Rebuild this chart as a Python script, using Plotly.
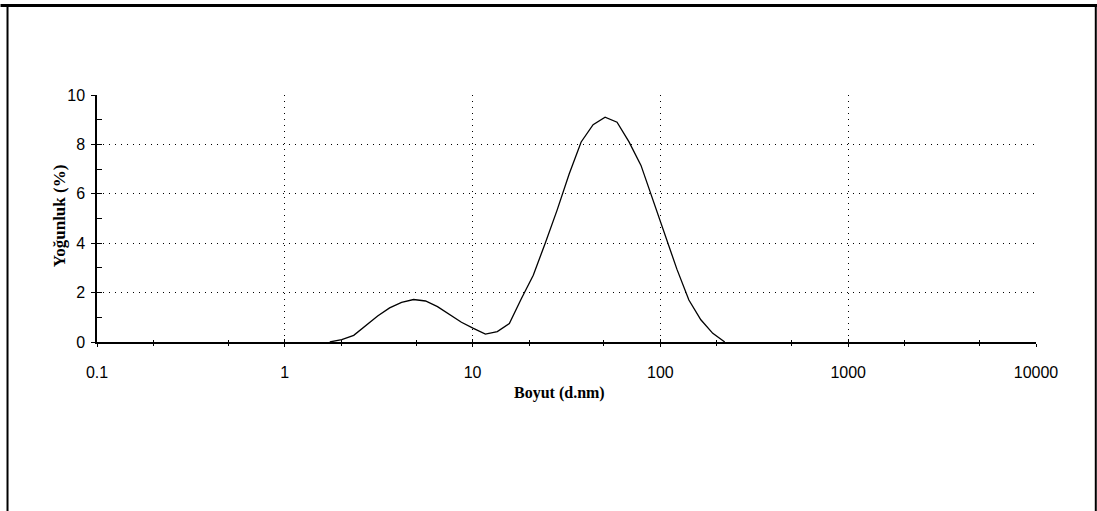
import plotly.graph_objects as go

# Size bins (d.nm) and intensity (%)
sizes = [1.736, 2.01, 2.328, 2.696, 3.122, 3.615, 4.187, 4.849, 5.615, 6.503,
         7.531, 8.721, 10.1, 11.7, 13.54, 15.69, 18.17, 21.04, 24.36, 28.21,
         32.67, 37.84, 43.82, 50.75, 58.77, 68.06, 78.82, 91.28, 105.7, 122.4,
         141.8, 164.2, 190.1, 220.2]
intensity = [0.0, 0.1, 0.27, 0.65, 1.05, 1.38, 1.6, 1.72, 1.66, 1.43,
             1.12, 0.8, 0.55, 0.32, 0.42, 0.75, 1.75, 2.7, 4.0, 5.35,
             6.8, 8.1, 8.8, 9.1, 8.9, 8.1, 7.15, 5.75, 4.3, 2.95,
             1.7, 0.9, 0.35, 0.0]

x_ticks = [0.1, 1, 10, 100, 1000, 10000]
x_tick_labels = ["0.1", "1", "10", "100", "1000", "10000"]
y_ticks = [0, 2, 4, 6, 8, 10]

W, H = 1097, 511
L, R, T, B = 96.5, 1035.7, 95.0, 341.7

def px(xp):
    return (xp - L) / (R - L)

def py(yp):
    return (B - yp) / (B - T)

fig = go.Figure()
fig.add_trace(go.Scatter(x=sizes, y=intensity, mode="lines",
                         line=dict(color="black", width=1.3),
                         showlegend=False, hoverinfo="skip"))
# invisible trace to activate overlay axes
fig.add_trace(go.Scatter(x=[1], y=[0], xaxis="x2", yaxis="y2", mode="markers",
                         marker=dict(opacity=0), showlegend=False, hoverinfo="skip"))

font = dict(family="Liberation Sans, Arial, sans-serif", size=16, color="black")

fig.update_layout(
    width=W, height=H,
    margin=dict(l=L, r=W - R, t=T, b=H - B),
    paper_bgcolor="white", plot_bgcolor="white",
    xaxis=dict(type="log", range=[-1, 4], tickvals=x_ticks, ticktext=x_tick_labels,
               showline=True, linecolor="black", linewidth=1.5,
               ticks="outside", ticklen=3, tickcolor="black", tickwidth=1,
               minor=dict(ticks="outside", ticklen=2, tickcolor="black", showgrid=False),
               showgrid=True, gridcolor="black", gridwidth=1, griddash="1px,5px",
               tickfont=font, ticklabelstandoff=12, zeroline=False),
    yaxis=dict(range=[0, 10], tickvals=y_ticks,
               showline=True, linecolor="black", linewidth=1.5,
               ticks="outside", ticklen=4, tickcolor="black", tickwidth=1,
               showgrid=True, gridcolor="black", gridwidth=1, griddash="1px,5px",
               tickfont=font, ticklabelstandoff=3, zeroline=False),
    xaxis2=dict(type="log", range=[-1, 4], overlaying="x", tickvals=x_ticks,
                showticklabels=False, ticks="inside", ticklen=3, tickcolor="black",
                minor=dict(ticks="inside", ticklen=2, tickcolor="black", showgrid=False),
                showgrid=False, showline=False, zeroline=False),
    yaxis2=dict(range=[0, 10], overlaying="y", dtick=1,
                showticklabels=False, ticks="inside", ticklen=5, tickcolor="black",
                showgrid=False, showline=False, zeroline=False),
    showlegend=False,
)

# Axis titles
fig.add_annotation(text="<b>Boyut (d.nm)</b>", x=px(559), y=py(404), xref="paper", yref="paper",
                   showarrow=False, font=dict(family="Liberation Serif, Times New Roman, serif", size=16, color="black"))
fig.add_annotation(text="<b>Yoğunluk (%)</b>", x=px(47), y=py(216), xref="paper", yref="paper",
                   showarrow=False, textangle=-90,
                   font=dict(family="Liberation Serif, Times New Roman, serif", size=17, color="black"))

# Frame around the picture
fig.add_shape(type="line", xref="paper", yref="paper", x0=px(0), x1=px(W), y0=py(5.5), y1=py(5.5),
              line=dict(color="black", width=3))
fig.add_shape(type="line", xref="paper", yref="paper", x0=px(7), x1=px(7), y0=py(5.5), y1=py(H),
              line=dict(color="black", width=2))
fig.add_shape(type="line", xref="paper", yref="paper", x0=px(1095.5), x1=px(1095.5), y0=py(5.5), y1=py(H),
              line=dict(color="black", width=2))

fig.write_html("out.html")
